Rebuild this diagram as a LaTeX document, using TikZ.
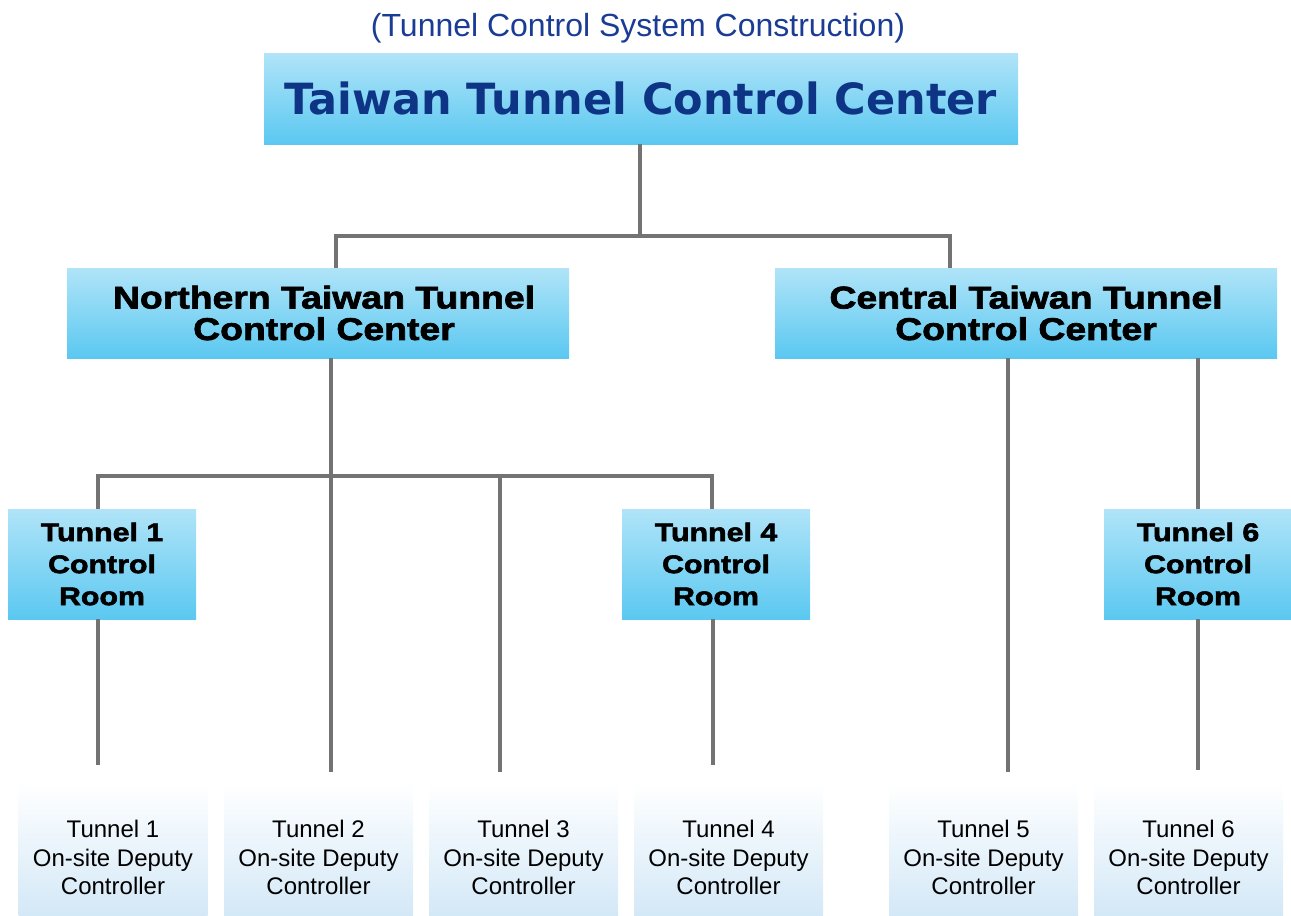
\documentclass[tikz,border=0pt]{standalone}
\usepackage{fontspec}
\setmainfont{Liberation Sans}
\newfontfamily\titlefont{DejaVu Sans Bold}
\newfontfamily\blackfont{Liberation Sans Bold}[FakeStretch=1.19,FakeBold=2.2]
\definecolor{boxtop}{HTML}{B0E4F8}
\definecolor{boxbot}{HTML}{5BC8F1}
\definecolor{leaftop}{HTML}{FFFFFF}
\definecolor{leafbot}{HTML}{D3E8F7}
\definecolor{navy}{HTML}{0E3485}
\definecolor{subblue}{HTML}{1B3C94}
\definecolor{conngray}{HTML}{737373}
\newcommand\leaftext[1]{\rule{0pt}{34pt}Tunnel #1\\On-site Deputy\\Controller}
\tikzset{
  bluebox/.style={top color=boxtop,bottom color=boxbot,draw=none,inner sep=0pt,align=center,text=black},
  leafbox/.style={top color=leaftop,bottom color=leafbot,draw=none,inner sep=0pt,align=center,minimum width=189,minimum height=133,
    font=\fontsize{24}{28.5}\selectfont},
  roombox/.style={bluebox,minimum width=188,minimum height=110,font=\blackfont\fontsize{25.5}{32}\selectfont},
  midbox/.style={bluebox,minimum width=502,minimum height=90,font=\blackfont\fontsize{31.4}{31.5}\selectfont},
  conn/.style={draw=conngray,line width=4.5}
}
\begin{document}
\begin{tikzpicture}[x=1pt,y=-1pt]
\useasboundingbox (0,0) rectangle (1291,916);
\node[text=subblue,font=\fontsize{32}{32}\selectfont] (sub) at (638,28) {(Tunnel Control System Construction)};
\node[bluebox,minimum width=754,minimum height=91,text=navy,font=\titlefont\fontsize{43}{43}\selectfont] (top) at (641,98.5) {Taiwan Tunnel Control Center};
\node[midbox] (north) at (318,313) {\hspace*{12pt}Northern Taiwan Tunnel\\\hspace*{12pt}Control Center};
\node[midbox] (central) at (1026,313) {Central Taiwan Tunnel\\Control Center};
\node[roombox] (r1) at (102,564) {Tunnel 1\\Control\\Room};
\node[roombox] (r4) at (716,564) {Tunnel 4\\Control\\Room};
\node[roombox] (r6) at (1198,564) {Tunnel 6\\Control\\Room};
\node[leafbox] (l1) at (113,849.5) {\leaftext{1}};
\node[leafbox] (l2) at (318.5,849.5) {\leaftext{2}};
\node[leafbox] (l3) at (523.5,849.5) {\leaftext{3}};
\node[leafbox] (l4) at (728.5,849.5) {\leaftext{4}};
\node[leafbox] (l5) at (983.5,849.5) {\leaftext{5}};
\node[leafbox] (l6) at (1188.5,849.5) {\leaftext{6}};
% junction coordinates
\coordinate (j0) at (640,236);
\coordinate (jn) at (331,476);
\coordinate (e1) at (98,765);
\coordinate (e2) at (331,772);
\coordinate (e3) at (500,772);
\coordinate (e4) at (713,765);
\coordinate (e5) at (1008,772);
\coordinate (e6) at (1198,770);
% connectors
\draw[conn] (top.south -| j0) -- (j0);
\draw[conn] (north.north -| 336,0) |- (j0) -| (central.north -| 950,0);
\draw[conn] (north.south -| jn) -- (jn);
\draw[conn] (r1.north -| 98,0) |- (jn) -| (r4.north -| 712,0);
\draw[conn] (jn) -- (e2);
\draw[conn] (500,476) -- (e3);
\draw[conn] (r1.south -| e1) -- (e1);
\draw[conn] (r4.south -| e4) -- (e4);
\draw[conn] (central.south -| e5) -- (e5);
\draw[conn] (central.south -| e6) -- (r6.north -| e6);
\draw[conn] (r6.south -| e6) -- (e6);
\end{tikzpicture}
\end{document}
